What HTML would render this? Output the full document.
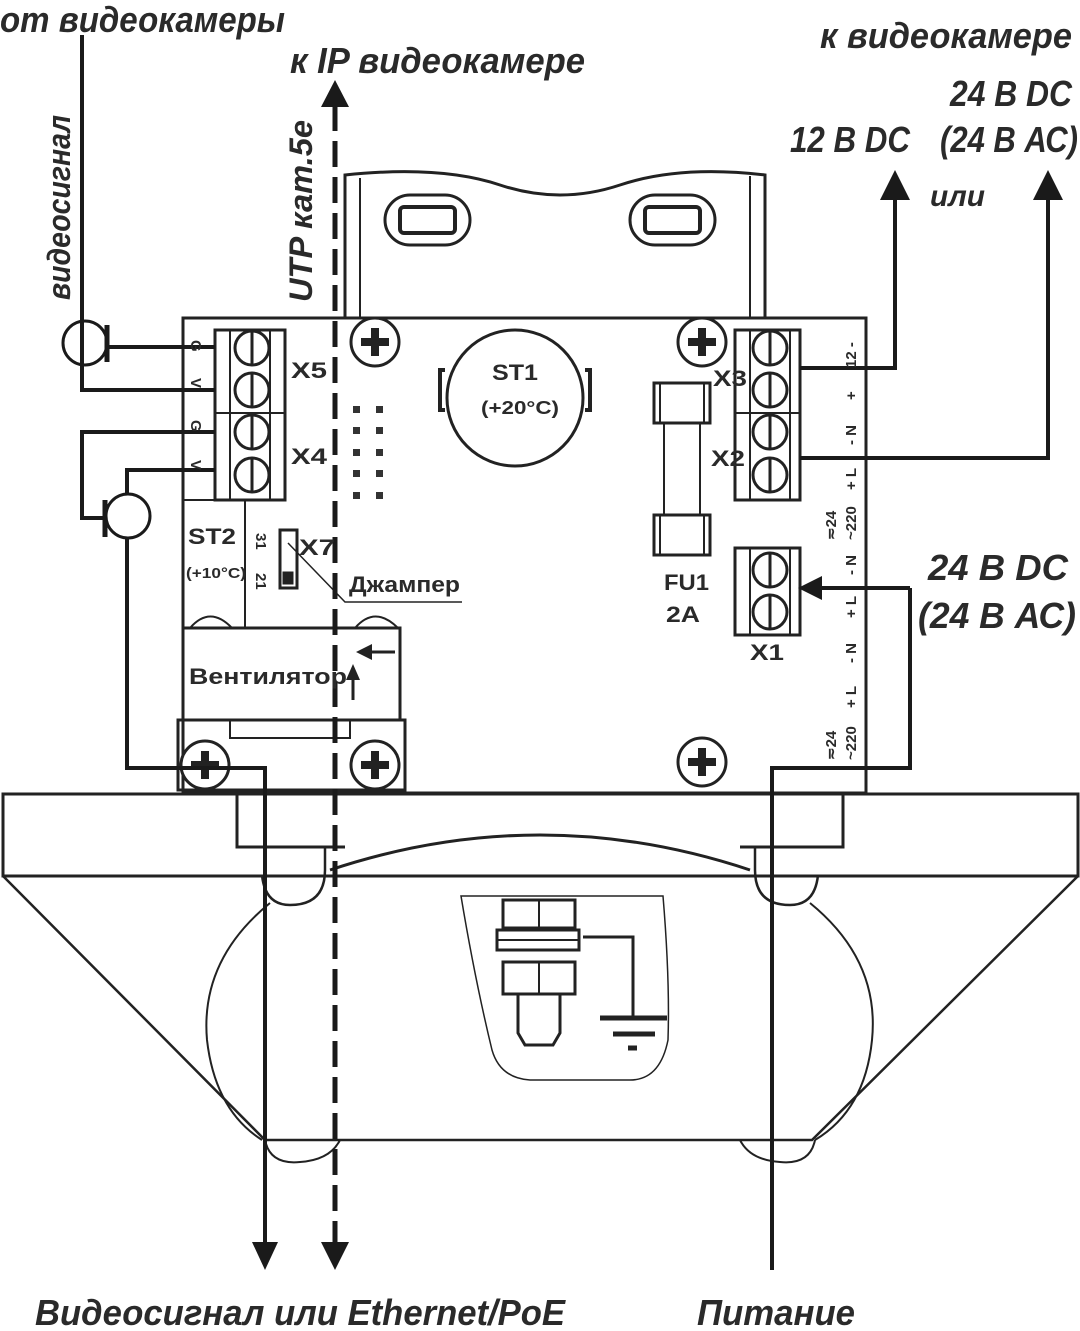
<!DOCTYPE html>
<html><head><meta charset="utf-8"><style>
html,body{margin:0;padding:0;background:#fff}
svg{display:block}
.t{font-family:"Liberation Sans",sans-serif;font-style:italic;font-weight:bold;fill:#2a2a2a}
.b{font-family:"Liberation Sans",sans-serif;font-weight:bold;fill:#2a2a2a}
</style></head><body>
<svg width="1080" height="1331" viewBox="0 0 1080 1331" xmlns="http://www.w3.org/2000/svg">
<defs>
<g id="scr"><circle r="24" fill="#fff" stroke="#222" stroke-width="3"/><rect x="-14" y="-4" width="28" height="8" fill="#222"/><rect x="-4" y="-14" width="8" height="28" fill="#222"/></g>
<g id="ts"><circle r="17" fill="none" stroke="#222" stroke-width="3"/><line x1="0" y1="-17" x2="0" y2="17" stroke="#222" stroke-width="3"/></g>
</defs>
<g stroke="#222" fill="none">
<path d="M3 794 H1078 V876 H3 Z" stroke-width="3"/>
<path d="M3 876 L265 1140 H812 L1078 876" stroke-width="2.5"/>
<path d="M237 794 V847 H345 M740 847 H843 V794" stroke-width="3"/>
<path d="M325 847 V870 Q325 905 290 905 Q265 905 262 875 M755 847 V870 Q755 905 790 905 Q815 905 818 875" stroke-width="2.5"/>
<path d="M330 870 Q540 800 750 870" stroke-width="3"/>
<path d="M270 903 Q200 960 207 1040 Q215 1110 262 1140 M810 903 Q880 960 872 1040 Q865 1110 815 1140" stroke-width="2"/>
<path d="M265 1140 Q270 1165 300 1162 Q330 1160 340 1140 M740 1140 Q750 1160 780 1162 Q810 1165 815 1140" stroke-width="2"/>
<path d="M461 896 H663 Q670 980 668 1040 Q660 1080 630 1080 H530 Q500 1078 492 1050 Q475 980 461 896 Z" stroke-width="1.5"/>
<rect x="503" y="900" width="72" height="28" stroke-width="3"/><line x1="539" y1="900" x2="539" y2="928" stroke-width="2"/>
<rect x="497" y="930" width="82" height="20" stroke-width="3"/><line x1="497" y1="940" x2="579" y2="940" stroke-width="2"/>
<rect x="503" y="962" width="72" height="32" stroke-width="3"/><line x1="539" y1="962" x2="539" y2="994" stroke-width="2"/>
<path d="M518 994 V1033 L525 1045 H553 L560 1033 V994" stroke-width="3"/>
<path d="M583 937 H633 V1018" stroke-width="3"/>
<line x1="600" y1="1018" x2="667" y2="1018" stroke-width="5"/>
<line x1="613" y1="1034" x2="655" y2="1034" stroke-width="5"/>
<line x1="628" y1="1048" x2="637" y2="1048" stroke-width="5"/>
<path d="M345 318 V175 Q440 165 500 185 Q560 205 620 185 Q680 165 765 175 V318" stroke-width="3"/>
<line x1="360" y1="178" x2="360" y2="318" stroke-width="2"/><line x1="750" y1="176" x2="750" y2="318" stroke-width="2"/>
<rect x="385" y="195" width="85" height="50" rx="25" stroke-width="3"/><rect x="400" y="207" width="55" height="26" rx="4" stroke-width="4"/>
<rect x="630" y="195" width="85" height="50" rx="25" stroke-width="3"/><rect x="645" y="207" width="55" height="26" rx="4" stroke-width="4"/>
<rect x="183" y="318" width="683" height="475" fill="#fff" stroke-width="3"/>
<rect x="215" y="330" width="70" height="170" stroke-width="3"/>
<line x1="230" y1="330" x2="230" y2="500" stroke-width="2"/><line x1="270" y1="330" x2="270" y2="500" stroke-width="2"/>
<line x1="215" y1="413" x2="285" y2="413" stroke-width="2"/>
<line x1="183" y1="500" x2="215" y2="500" stroke-width="2"/>
<line x1="245" y1="500" x2="245" y2="628" stroke-width="2"/>
<rect x="735" y="330" width="65" height="170" stroke-width="3"/>
<line x1="750" y1="330" x2="750" y2="500" stroke-width="2"/><line x1="790" y1="330" x2="790" y2="500" stroke-width="2"/>
<line x1="735" y1="413" x2="800" y2="413" stroke-width="2"/>
<rect x="735" y="548" width="65" height="87" stroke-width="3"/>
<line x1="750" y1="548" x2="750" y2="635" stroke-width="2"/><line x1="790" y1="548" x2="790" y2="635" stroke-width="2"/>
<circle cx="515" cy="398" r="68" stroke-width="3"/>
<path d="M445 370 H440 V410 H445 M585 370 H590 V410 H585" stroke-width="4"/>
<rect x="654" y="383" width="56" height="40" stroke-width="3"/><rect x="654" y="515" width="56" height="40" stroke-width="3"/>
<path d="M664 423 V515 M700 423 V515" stroke-width="2"/>
<path d="M660 383 V423 M704 383 V423 M660 515 V555 M704 515 V555" stroke-width="2"/>
<rect x="183" y="628" width="217" height="92" stroke-width="3"/>
<path d="M190 628 Q210 605 232 628 M355 628 Q375 605 398 628" stroke-width="2"/>
<rect x="178" y="720" width="227" height="70" stroke-width="3"/>
<path d="M230 720 V738 H350 V720" stroke-width="2"/>
<path d="M395 652 H362 M353 700 V672" stroke-width="3"/>
<rect x="280" y="530" width="17" height="58" stroke-width="3"/>
<rect x="283" y="572" width="10" height="12" fill="#222"/>
<path d="M288 543 L345 602 H462" stroke-width="1.5"/>
</g>
<path d="M356 652 L372 644 L372 660 Z M353 664 L346 680 L360 680 Z" fill="#222"/>
<g fill="#333">
<rect x="353" y="406" width="7" height="7"/><rect x="376" y="406" width="7" height="7"/>
<rect x="353" y="427" width="7" height="7"/><rect x="376" y="427" width="7" height="7"/>
<rect x="353" y="449" width="7" height="7"/><rect x="376" y="449" width="7" height="7"/>
<rect x="353" y="470" width="7" height="7"/><rect x="376" y="470" width="7" height="7"/>
<rect x="353" y="492" width="7" height="7"/><rect x="376" y="492" width="7" height="7"/>
</g>
<use href="#ts" x="252" y="348"/><use href="#ts" x="252" y="390"/><use href="#ts" x="252" y="432"/><use href="#ts" x="252" y="475"/>
<use href="#ts" x="770" y="348"/><use href="#ts" x="770" y="390"/><use href="#ts" x="770" y="432"/><use href="#ts" x="770" y="475"/>
<use href="#ts" x="770" y="570"/><use href="#ts" x="770" y="612"/>
<use href="#scr" x="375" y="342"/><use href="#scr" x="702" y="342"/><use href="#scr" x="702" y="762"/><use href="#scr" x="205" y="765"/><use href="#scr" x="375" y="765"/>
<g stroke="#1a1a1a" fill="none" stroke-width="4">
<path d="M82 35 V390 H215"/>
<circle cx="85" cy="343" r="22" stroke-width="3"/>
<path d="M107 325 V362" stroke-width="5"/><path d="M107 347 H215"/>
<path d="M215 432 H82 V518 H105"/><path d="M105 500 V537" stroke-width="5"/>
<circle cx="128" cy="516" r="22" stroke-width="3"/>
<path d="M215 470 H127 V494 M127 538 V768 H265 V1245"/>
<path d="M800 368 H895 V200 M800 458 H1048 V200"/>
<path d="M910 588 H815 M910 588 V768 H772 V1270"/>
<path d="M335 105 V1245" stroke-dasharray="26 10" stroke-width="5"/>
</g>
<g fill="#1a1a1a">
<path d="M880 200 L895 170 L910 200 Z"/><path d="M1033 200 L1048 170 L1063 200 Z"/>
<path d="M798 588 L822 576 L822 600 Z"/>
<path d="M252 1242 L265 1270 L278 1242 Z"/>
<path d="M321 107 L335 80 L349 107 Z"/><path d="M321 1242 L335 1270 L349 1242 Z"/>
</g>
<g class="b" font-size="22">
<text x="291" y="378" textLength="36" lengthAdjust="spacingAndGlyphs">X5</text><text x="291" y="464" textLength="36" lengthAdjust="spacingAndGlyphs">X4</text>
<text x="713" y="386" textLength="34" lengthAdjust="spacingAndGlyphs">X3</text><text x="711" y="466" textLength="34" lengthAdjust="spacingAndGlyphs">X2</text>
<text x="750" y="660" textLength="34" lengthAdjust="spacingAndGlyphs">X1</text>
<text x="492" y="380" textLength="46" lengthAdjust="spacingAndGlyphs">ST1</text>
<text x="481" y="414" font-size="18" textLength="78" lengthAdjust="spacingAndGlyphs">(+20°C)</text>
<text x="664" y="590" textLength="45" lengthAdjust="spacingAndGlyphs">FU1</text><text x="666" y="622" textLength="34" lengthAdjust="spacingAndGlyphs">2A</text>
<text x="188" y="544" textLength="48" lengthAdjust="spacingAndGlyphs">ST2</text>
<text x="186" y="578" font-size="15" textLength="60" lengthAdjust="spacingAndGlyphs">(+10°C)</text>
<text x="299" y="555" textLength="36" lengthAdjust="spacingAndGlyphs">X7</text>
<text x="349" y="592" font-size="22" textLength="111" lengthAdjust="spacingAndGlyphs">Джампер</text>
<text x="189" y="684" font-size="22" textLength="158" lengthAdjust="spacingAndGlyphs">Вентилятор</text>
</g>
<g class="b" font-size="15">
<text transform="translate(191,340) rotate(90)">G</text>
<text transform="translate(191,378) rotate(90)">V</text>
<text transform="translate(191,420) rotate(90)">G</text>
<text transform="translate(191,460) rotate(90)">V</text>
<text transform="translate(256,533) rotate(90)">31</text>
<text transform="translate(256,573) rotate(90)">21</text>
<text transform="translate(856,368) rotate(-90)">12 -</text>
<text transform="translate(856,400) rotate(-90)">+</text>
<text transform="translate(856,445) rotate(-90)">- N</text>
<text transform="translate(856,490) rotate(-90)">+ L</text>
<text transform="translate(836,540) rotate(-90)">≂24</text>
<text transform="translate(856,540) rotate(-90)">~220</text>
<text transform="translate(856,575) rotate(-90)">- N</text>
<text transform="translate(856,618) rotate(-90)">+ L</text>
<text transform="translate(856,663) rotate(-90)">- N</text>
<text transform="translate(856,708) rotate(-90)">+ L</text>
<text transform="translate(836,760) rotate(-90)">≂24</text>
<text transform="translate(856,760) rotate(-90)">~220</text>
</g>
<g class="t" font-size="36">
<text x="0" y="32" textLength="285" lengthAdjust="spacingAndGlyphs">от видеокамеры</text>
<text x="290" y="73" textLength="295" lengthAdjust="spacingAndGlyphs">к IP видеокамере</text>
<text x="820" y="48" textLength="252" lengthAdjust="spacingAndGlyphs">к видеокамере</text>
<text x="950" y="106" textLength="122" lengthAdjust="spacingAndGlyphs">24 В DC</text>
<text x="940" y="152" textLength="138" lengthAdjust="spacingAndGlyphs">(24 В АС)</text>
<text x="790" y="152" textLength="120" lengthAdjust="spacingAndGlyphs">12 В DC</text>
<text x="930" y="206" font-size="30" textLength="55" lengthAdjust="spacingAndGlyphs">или</text>
<text x="928" y="580" textLength="140" lengthAdjust="spacingAndGlyphs">24 В DC</text>
<text x="918" y="628" textLength="158" lengthAdjust="spacingAndGlyphs">(24 В АС)</text>
<text transform="translate(70,300) rotate(-90)" font-size="32" textLength="185" lengthAdjust="spacingAndGlyphs">видеосигнал</text>
<text transform="translate(312,302) rotate(-90)" font-size="32" textLength="182" lengthAdjust="spacingAndGlyphs">UTP кат.5е</text>
<text x="35" y="1325" textLength="530" lengthAdjust="spacingAndGlyphs">Видеосигнал или Ethernet/PoE</text>
<text x="697" y="1325" textLength="158" lengthAdjust="spacingAndGlyphs">Питание</text>
</g>
</svg>
</body></html>
